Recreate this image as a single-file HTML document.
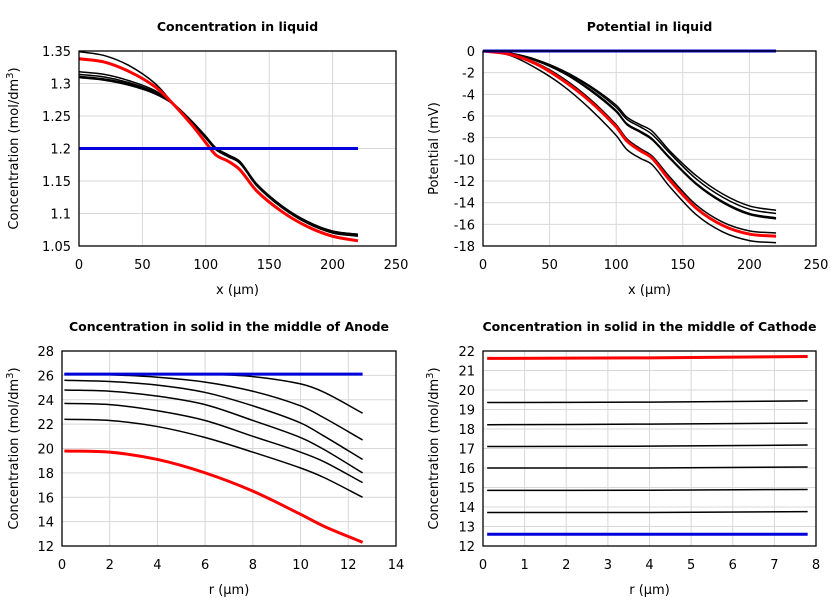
<!DOCTYPE html>
<html><head><meta charset="utf-8"><style>
html,body{margin:0;padding:0;background:#fff}
svg{display:block;font-family:"DejaVu Sans","Liberation Sans",sans-serif}
</style></head><body>
<svg id="c" width="840" height="600" viewBox="0 0 840 600"></svg>
<script>
// ---- Panel 1: Concentration in liquid ----
const p1X = [0,20,40,60,75,90,100,108,118,127,140,160,180,200,220];
const p1Black1 = [1.349,1.343,1.327,1.300,1.268,1.238,1.216,1.199,1.188,1.178,1.145,1.111,1.087,1.073,1.068];
const p1Black2 = [1.318,1.314,1.304,1.289,1.268,1.240,1.219,1.201,1.190,1.180,1.146,1.112,1.088,1.073,1.068];
const p1Black3 = [1.314,1.310,1.301,1.287,1.268,1.240,1.218,1.200,1.189,1.179,1.145,1.111,1.087,1.072,1.067];
const p1Black4 = [1.311,1.307,1.299,1.285,1.268,1.239,1.217,1.199,1.188,1.178,1.144,1.110,1.086,1.071,1.066];
const p1Black5 = [1.309,1.305,1.297,1.284,1.267,1.238,1.216,1.198,1.187,1.177,1.143,1.109,1.085,1.070,1.065];
const p1Red = [1.338,1.333,1.318,1.295,1.267,1.234,1.209,1.190,1.180,1.167,1.135,1.103,1.080,1.065,1.058];
const p1Blue = [1.2,1.2,1.2,1.2,1.2,1.2,1.2,1.2,1.2,1.2,1.2,1.2,1.2,1.2,1.2];
const p1XTicks = [0,50,100,150,200,250];
const p1YTicks = [1.05,1.1,1.15,1.2,1.25,1.3,1.35];
const p1YTickLabels = ["1.05","1.1","1.15","1.2","1.25","1.3","1.35"];
// ---- Panel 2: Potential in liquid ----
const p2X = [0,20,40,60,80,100,108,118,127,140,160,180,200,220];
const p2Black1 = [0,-0.2,-0.8,-1.8,-3.2,-5.0,-6.1,-6.8,-7.4,-9.2,-11.5,-13.2,-14.3,-14.7];
const p2Black2 = [0,-0.2,-0.8,-1.9,-3.3,-5.2,-6.3,-7.0,-7.7,-9.4,-11.8,-13.5,-14.6,-15.0];
const p2Black3 = [0,-0.2,-0.9,-2.0,-3.5,-5.5,-6.7,-7.4,-8.1,-9.8,-12.2,-13.9,-15.0,-15.4];
const p2Black4 = [0,-0.2,-0.9,-2.0,-3.6,-5.6,-6.8,-7.5,-8.2,-9.9,-12.3,-14.0,-15.1,-15.5];
const p2Black5 = [0,-0.3,-1.1,-2.5,-4.4,-6.8,-8.1,-9.0,-9.7,-11.6,-14.2,-15.8,-16.6,-16.8];
const p2Red = [0,-0.3,-1.2,-2.7,-4.6,-7.0,-8.3,-9.2,-9.9,-11.9,-14.5,-16.1,-16.9,-17.1];
const p2Black6 = [0,-0.4,-1.6,-3.2,-5.3,-7.8,-9.1,-9.9,-10.5,-12.5,-15.1,-16.7,-17.5,-17.7];
const p2Blue = [0,0,0,0,0,0,0,0,0,0,0,0,0,0];
const p2XTicks = [0,50,100,150,200,250];
const p2YTicks = [0,-2,-4,-6,-8,-10,-12,-14,-16,-18];
// ---- Panel 3: Anode solid ----
const p3R = [0.1,2,4,6,8,10,11,12.6];
const p3Black1 = [26.1,26.1,26.1,26.1,25.9,25.3,24.6,22.9];
const p3Black2 = [26.1,26.05,25.85,25.45,24.7,23.5,22.5,20.7];
const p3Black3 = [25.6,25.5,25.2,24.6,23.5,22.1,21.0,19.1];
const p3Black4 = [24.8,24.7,24.3,23.6,22.3,20.9,19.9,18.0];
const p3Black5 = [23.7,23.6,23.1,22.3,21.0,19.7,18.9,17.2];
const p3Black6 = [22.4,22.3,21.8,20.9,19.7,18.4,17.6,16.0];
const p3Red = [19.8,19.7,19.1,18.0,16.5,14.6,13.6,12.3];
const p3Blue = [26.1,26.1,26.1,26.1,26.1,26.1,26.1,26.1];
const p3XTicks = [0,2,4,6,8,10,12,14];
const p3YTicks = [12,14,16,18,20,22,24,26,28];
// ---- Panel 4: Cathode solid ----
const p4R = [0.1,4,7.8];
const p4Red = [21.62,21.65,21.72];
const p4Black1 = [19.36,19.38,19.44];
const p4Black2 = [18.22,18.25,18.3];
const p4Black3 = [17.1,17.12,17.18];
const p4Black4 = [16.0,16.0,16.05];
const p4Black5 = [14.85,14.86,14.9];
const p4Black6 = [13.72,13.72,13.76];
const p4Blue = [12.6,12.6,12.6];
const p4XTicks = [0,1,2,3,4,5,6,7,8];
const p4YTicks = [12,13,14,15,16,17,18,19,20,21,22];

const NS="http://www.w3.org/2000/svg";
const svg=document.getElementById('c');
function el(tag,attrs,parent){const e=document.createElementNS(NS,tag);for(const k in attrs)e.setAttribute(k,attrs[k]);(parent||svg).appendChild(e);return e;}
function smooth(pts){
  const n=pts.length;
  const m=pts.map((p,i)=>{
    const a=pts[Math.max(0,i-1)],b=pts[Math.min(n-1,i+1)];
    return (b[1]-a[1])/(b[0]-a[0]);
  });
  let d="M"+pts[0][0].toFixed(2)+","+pts[0][1].toFixed(2);
  for(let i=0;i<n-1;i++){
    const p1=pts[i],p2=pts[i+1],h=p2[0]-p1[0];
    d+=" C"+(p1[0]+h/3).toFixed(2)+","+(p1[1]+m[i]*h/3).toFixed(2)+" "+(p2[0]-h/3).toFixed(2)+","+(p2[1]-m[i+1]*h/3).toFixed(2)+" "+p2[0].toFixed(2)+","+p2[1].toFixed(2);
  }
  return d;
}
function panel(cfg){
  const g=el('g',{});
  
  
  const sx=v=>cfg.x0+(v-cfg.xmin)/(cfg.xmax-cfg.xmin)*(cfg.x1-cfg.x0);
  const sy=v=>cfg.y1-(v-cfg.ymin)/(cfg.ymax-cfg.ymin)*(cfg.y1-cfg.y0);
  cfg.xticks.forEach(t=>{
    const l=el('line',{x1:sx(t),x2:sx(t),y1:cfg.y0,y2:cfg.y1,stroke:'#d8d8d8','stroke-width':1},g);
    
    
    const tx=el('text',{x:sx(t),y:cfg.y1+23,'text-anchor':'middle','font-size':13,fill:'#000'},g);
    
    
    tx.textContent=String(t);
  });
  cfg.yticks.forEach((t,i)=>{
    const l=el('line',{x1:cfg.x0,x2:cfg.x1,y1:sy(t),y2:sy(t),stroke:'#d8d8d8','stroke-width':1},g);
    
    
    const tx=el('text',{x:cfg.x0-8,y:sy(t)+5,'text-anchor':'end','font-size':13,fill:'#000'},g);
    
    
    tx.textContent=cfg.ylabels?cfg.ylabels[i]:String(t);
  });
  cfg.series.forEach(s=>{
    const pts=s.y.map((v,i)=>[sx(cfg.xs[i]),sy(v)]);
    const p=el('path',{d:smooth(pts),fill:'none',stroke:s.c,'stroke-width':s.w,'stroke-linejoin':'round'},g);
    
    
  });
  const fr=el('rect',{x:cfg.x0,y:cfg.y0,width:cfg.x1-cfg.x0,height:cfg.y1-cfg.y0,fill:'none',stroke:'#000','stroke-width':1.3},g);
  
  
  const ti=el('text',{x:(cfg.x0+cfg.x1)/2,y:cfg.y0-20,'text-anchor':'middle','font-size':12.5,'font-weight':'bold',fill:'#000'},g);
  
  
  ti.textContent=cfg.title;
  const xl=el('text',{x:(cfg.x0+cfg.x1)/2,y:cfg.y1+48,'text-anchor':'middle','font-size':13,fill:'#000'},g);
  
  
  xl.textContent=cfg.xlabel;
  const yc=(cfg.y0+cfg.y1)/2;
  const yl=el('text',{x:cfg.ylx,y:yc,'text-anchor':'middle','font-size':13,fill:'#000',transform:`rotate(-90 ${cfg.ylx} ${yc})`},g);
  
  
  if(cfg.sup){
    yl.appendChild(document.createTextNode('Concentration (mol/dm'));
    const ts=el('tspan',{dy:-5,'font-size':10},yl);ts.textContent='3';
    const t2=el('tspan',{dy:5},yl);t2.textContent=')';
  } else yl.textContent=cfg.ylabel;
}
const B='#000',R='#ff0000',BL='#0000dd';
panel({name:'panel-liquid-concentration',title:'Concentration in liquid',x0:79,x1:396,y0:51,y1:246,xmin:0,xmax:250,ymin:1.05,ymax:1.35,
  xticks:p1XTicks,yticks:p1YTicks,ylabels:p1YTickLabels,xlabel:'x (µm)',sup:true,ylx:18,xs:p1X,
  series:[{y:p1Black2,c:B,w:1.5,n:'black-line'},{y:p1Black3,c:B,w:1.5,n:'black-line'},{y:p1Black4,c:B,w:1.5,n:'black-line'},{y:p1Black5,c:B,w:1.5,n:'black-line'},{y:p1Black1,c:B,w:1.5,n:'black-line'},{y:p1Red,c:R,w:3,n:'red-line'},{y:p1Blue,c:BL,w:3,n:'blue-line'}]});
panel({name:'panel-liquid-potential',title:'Potential in liquid',x0:483,x1:816,y0:51,y1:246,xmin:0,xmax:250,ymin:-18,ymax:0,
  xticks:p2XTicks,yticks:p2YTicks,xlabel:'x (µm)',ylabel:'Potential (mV)',ylx:438,xs:p2X,
  series:[{y:p2Black1,c:B,w:1.5,n:'black-line'},{y:p2Black2,c:B,w:1.5,n:'black-line'},{y:p2Black3,c:B,w:1.5,n:'black-line'},{y:p2Black4,c:B,w:1.5,n:'black-line'},{y:p2Black5,c:B,w:1.5,n:'black-line'},{y:p2Black6,c:B,w:1.5,n:'black-line'},{y:p2Red,c:R,w:3,n:'red-line'},{y:p2Blue,c:BL,w:3,n:'blue-line'}]});
panel({name:'panel-anode-solid',title:'Concentration in solid in the middle of Anode',x0:62,x1:396,y0:351,y1:546,xmin:0,xmax:14,ymin:12,ymax:28,
  xticks:p3XTicks,yticks:p3YTicks,xlabel:'r (µm)',sup:true,ylx:18,xs:p3R,
  series:[{y:p3Black1,c:B,w:1.5,n:'black-line'},{y:p3Black2,c:B,w:1.5,n:'black-line'},{y:p3Black3,c:B,w:1.5,n:'black-line'},{y:p3Black4,c:B,w:1.5,n:'black-line'},{y:p3Black5,c:B,w:1.5,n:'black-line'},{y:p3Black6,c:B,w:1.5,n:'black-line'},{y:p3Red,c:R,w:3,n:'red-line'},{y:p3Blue,c:BL,w:3,n:'blue-line'}]});
panel({name:'panel-cathode-solid',title:'Concentration in solid in the middle of Cathode',x0:483,x1:816,y0:351,y1:546,xmin:0,xmax:8,ymin:12,ymax:22,
  xticks:p4XTicks,yticks:p4YTicks,xlabel:'r (µm)',sup:true,ylx:438,xs:p4R,
  series:[{y:p4Black1,c:B,w:1.5,n:'black-line'},{y:p4Black2,c:B,w:1.5,n:'black-line'},{y:p4Black3,c:B,w:1.5,n:'black-line'},{y:p4Black4,c:B,w:1.5,n:'black-line'},{y:p4Black5,c:B,w:1.5,n:'black-line'},{y:p4Black6,c:B,w:1.5,n:'black-line'},{y:p4Red,c:R,w:3,n:'red-line'},{y:p4Blue,c:BL,w:3,n:'blue-line'}]});
</script>
</body></html>
